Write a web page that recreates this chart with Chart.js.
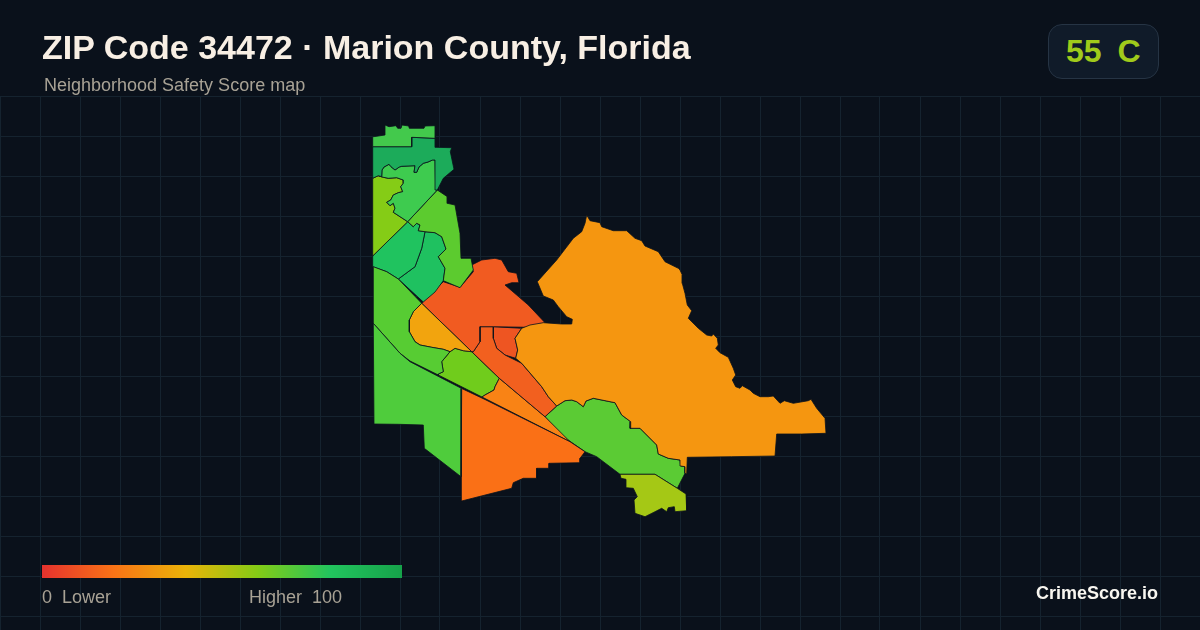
<!DOCTYPE html>
<html>
<head>
<meta charset="utf-8">
<title>ZIP Code 34472</title>
<script src="https://cdn.jsdelivr.net/npm/chart.js@4/dist/chart.umd.js"></script>
<style>
body { margin: 0; background: #0a111b; }
#wrap { position: relative; width: 1200px; height: 630px; overflow: hidden; font-family: "Liberation Sans", Arial, sans-serif; }
canvas { position: absolute; left: 0; top: 0; }
.t { position: absolute; white-space: pre; line-height: 1; }
#title { left: 42px; top: 30px; font-size: 34px; font-weight: bold; color: #f8efe4; }
#sub { left: 44px; top: 76px; font-size: 18px; color: #a8a295; }
#badge { position: absolute; left: 1048px; top: 24px; width: 109px; height: 53px; border: 1px solid #263444; border-radius: 14px; background: #101b29; }
#score { left: 1066px; top: 35px; font-size: 32px; font-weight: bold; color: #a0ca1b; word-spacing: -1px; }
#ramp { position: absolute; left: 42px; top: 565px; width: 360px; height: 13px;
  background: linear-gradient(90deg, #e5322e 0%, #f97316 20%, #eab308 40%, #84cc16 60%, #22c55e 80%, #16a34a 100%); }
#low { left: 42px; top: 588px; font-size: 18px; color: #a8a295; }
#high { left: 249px; top: 588px; font-size: 18px; color: #a8a295; }
#brand { left: 1036px; top: 584px; font-size: 18px; font-weight: bold; color: #f8f6f0; }
</style>
</head>
<body>
<div id="wrap">
  <canvas id="Chart" width="1200" height="630"></canvas>
  <div class="t" id="title">ZIP Code 34472 · Marion County, Florida</div>
  <div class="t" id="sub">Neighborhood Safety Score map</div>
  <div id="badge"></div>
  <div class="t" id="score">55  C</div>
  <div id="ramp"></div>
  <div class="t" id="low">0  Lower</div>
  <div class="t" id="high">Higher  100</div>
  <div class="t" id="brand">CrimeScore.io</div>
</div>
<script>
// map outlines, one list per neighborhood, in map units
const northStrip = [[372.7,136.7],[375,136.5],[385,135],[385,125],[389,126.7],[396,125.7],[397.7,128.3],[401,128.3],[402,125],[408.7,126],[409.3,128.3],[424,128.3],[425,126],[435.3,125.7],[435.3,138.3],[411.7,137.3],[411.7,146.7],[372.7,146.7]];
const northDark = [[372.7,146.7],[411.7,146.7],[411.7,137.3],[435.3,138.3],[435.3,147.3],[451.7,147.7],[450.3,151.7],[454,169.3],[443.3,178.3],[437.3,190],[435.7,190],[435,160],[432.5,160],[428,162],[423.3,163.3],[419,167],[416.7,172.3],[414,172.3],[415,165.7],[401.7,166.3],[399.3,167],[395,170],[391,166.7],[389,164.3],[384,167],[382,170],[381.7,176.7],[378.3,175.7],[372.7,178.3]];
const northInner = [[378.3,175.7],[381.7,176.7],[382,170],[384,167],[389,164.3],[391,166.7],[395,170],[399.3,167],[401.7,166.3],[415,165.7],[414,172.3],[416.7,172.3],[419,167],[423.3,163.3],[428,162],[432.5,160],[435,160],[435.7,190],[437.3,190],[407.7,221.7],[393.3,212.3],[395,208.3],[393.3,203.3],[390,205.7],[386.7,202.3],[390.7,200],[393.3,195],[398.3,192.7],[402.7,191.7],[400.7,186.7],[403.3,183.3],[403.3,180],[396.7,177.7],[388.3,178.3],[383.3,177.3]];
const westLime = [[372.7,178.3],[378.3,175.7],[383.3,177.3],[388.3,178.3],[396.7,177.7],[403.3,180],[403.3,183.3],[400.7,186.7],[402.7,191.7],[398.3,192.7],[393.3,195],[390.7,200],[386.7,202.3],[390,205.7],[393.3,203.3],[395,208.3],[393.3,212.3],[407.7,221.7],[372.7,256]];
const eastBand = [[437.3,190],[447.3,196.7],[447.3,203.3],[455,205],[460,233.3],[461,258.3],[471,258.3],[473.3,270],[460,287.7],[443.3,280.7],[445,268.3],[438.3,256.7],[446,249],[441.7,236.7],[435,232.7],[425,231.7],[418.3,230.7],[420,225],[416.7,223.3],[413.3,226.7],[407.7,221.7]];
const midWest = [[407.7,221.7],[413.3,226.7],[416.7,223.3],[420,225],[418.3,230.7],[425,231.7],[421.7,248.3],[415,266.7],[398.3,279],[386.7,271.7],[372.7,266.7],[372.7,256]];
const midEast = [[425,231.7],[435,232.7],[441.7,236.7],[446,249],[438.3,256.7],[445,268.3],[443.3,280.7],[435,292],[423.3,302],[398.3,279],[415,266.7],[421.7,248.3]];
const westBand = [[373.3,266.7],[386.7,271.7],[398.3,279],[421.7,303.3],[413.3,311.7],[409.3,320],[409.3,331.7],[415,341.7],[420,345],[431.7,347.3],[443.3,349.3],[450,351.7],[441.7,361.7],[443.3,371.7],[438.3,374],[438.3,375],[410,361],[400,353.3],[373.3,323.3]];
const southWest = [[373.3,323.3],[400,353.3],[410,361.7],[461.7,388.5],[461,476.7],[424.3,448.3],[423.3,425],[398.3,424.3],[374,424]];
const amberBend = [[421.7,303.3],[471.7,351.7],[463.3,350.7],[455,348.3],[450,351.7],[443.3,349.3],[431.7,347.3],[420,345],[415,341.7],[409.3,331.7],[409.3,320],[413.3,311.7]];
const redNorth = [[421.7,303.3],[443.3,281.7],[460,287.3],[473.3,271.7],[471.7,265],[481.7,260],[495,258.3],[501.7,260],[508.3,271.7],[516.7,273.3],[519,282.7],[511.7,282.7],[505,285],[516.7,295],[528.3,305],[545,322.7],[528.3,327.3],[493.3,326.7],[480,326.7],[480,341.7],[473.3,351.7],[471.7,351.7]];
const redStrip = [[480,326.7],[493.3,326.7],[493.3,338.3],[496.7,348.3],[505,355],[521.7,363.3],[531.7,375],[541.7,386.7],[548.3,396.7],[556.7,406],[545,416.7],[499.3,378.3],[471.7,351.7],[473.3,351.7],[480,341.7]];
const redPocket = [[493.3,326.7],[521.7,328.3],[515,338.3],[517.7,350],[515.7,358.3],[505,355],[496.7,348.3],[493.3,338.3]];
const limeMid = [[455,348.3],[463.3,350.7],[471.7,351.7],[499.3,378.3],[495,386.7],[494,390],[485,395],[482,397],[438.3,375],[438.3,374],[443.3,371.7],[441.7,361.7],[450,351.7]];
const orangeStrip = [[499.3,378.3],[545,416.7],[570,441.7],[482,397],[485,395],[494,390],[495,386.7]];
const bigTriangle = [[461.7,388.5],[485,399.5],[570,441.7],[585,451.7],[580,458.3],[580,462.7],[549,463.3],[549,468.3],[536.7,468.3],[536.7,478.3],[523.3,478.3],[513.3,482.7],[511.7,488.3],[461.7,501],[461,445]];
const bigEast = [[586.7,215],[590,220.7],[600,222.7],[601.7,226.7],[613.3,230.7],[626.7,230.7],[635,238.3],[641.7,240.7],[645,246],[658.3,251.7],[665,261.7],[678.3,268.3],[680,270],[682.3,275],[682.3,283.3],[685,293.3],[687.3,305],[691.7,310.7],[688.3,318.3],[698.3,328.3],[706.7,335],[711.7,336],[713.3,334],[717.3,338.3],[718.3,345],[715.7,348.3],[720,352.7],[728.3,357.3],[733.3,368.3],[735.7,375],[732.3,380],[735.7,386.7],[740,388.3],[742.3,385.7],[750,390],[753.3,393.3],[760,396.7],[768.3,396.7],[773.3,396],[780,403.3],[784.3,400.7],[793.3,403.3],[808.3,400.7],[811,399.3],[816.7,408.3],[825,418.3],[826,433.3],[801.7,434],[776.7,434],[775,456],[731.7,456.7],[687.3,457.3],[686.7,474],[685,473.3],[685,466.7],[680.7,466],[680,460],[668.3,458.3],[658.3,454],[656.7,445],[640,428.3],[630,428.3],[630.7,421.7],[621.7,415],[615,402.7],[593.3,398.3],[586,401],[583.3,406.7],[576.7,401.7],[571.7,400],[565,400.7],[556.7,406],[548.3,396.7],[541.7,386.7],[531.7,375],[521.7,363.3],[515.7,358.3],[517.7,350],[515,338.3],[521.7,328.3],[530,325],[543.3,322.7],[561.7,324],[571.7,324],[572.3,319.3],[566.7,316.7],[558.3,306.7],[553.3,300],[543.3,296],[537.3,281.7],[556.7,260],[573.3,238.3],[581.7,231.7],[585,223.3]];
const southGreen = [[545,416.7],[556.7,406],[565,400.7],[571.7,400],[576.7,401.7],[583.3,406.7],[586,401],[593.3,398.3],[615,402.7],[621.7,415],[630.7,421.7],[630,428.3],[640,428.3],[656.7,445],[658.3,454],[668.3,458.3],[680,460],[680.7,466],[685,466.7],[685,473.3],[677.3,488.3],[655,474.3],[620,474.3],[596.7,456.7],[585,451.7],[563.3,436.7]];
const southLime = [[620,474.3],[655,474.3],[677.3,488.3],[686,494],[686.7,510.7],[675,511.7],[674.3,506.7],[668.3,507.7],[666.7,511.7],[661.7,508.3],[655,511.7],[645,516.7],[635,513.3],[634,500],[637.3,496.7],[633.3,488.3],[626,487.7],[626,479.3],[621,478.3]];

const zones = [bigEast, southWest, westBand, northStrip, northDark, northInner, westLime, eastBand, midWest, midEast, amberBend, redNorth, redStrip, redPocket, bigTriangle, orangeStrip, limeMid, southLime, southGreen];
const zoneColors = ['#f59610', '#4fcc3c', '#57cc33', '#43c94c', '#1cab5a', '#3ecb4f', '#85cc16', '#5ccb2f', '#20c35f', '#1fc160', '#f2a40e', '#f15b21', '#f2601f', '#ee5522', '#fa7016', '#f98315', '#70cc1c', '#a5c815', '#5bcb34'];

const gridY = [96, 136, 176, 216, 256, 296, 336, 376, 416, 456, 496, 536, 576, 616];

let ctx = document.getElementById("Chart");
let config = {
	type: 'scatter',
	data: {
		datasets: zones.map((pts, i) => ({
			data: pts.concat([pts[0]]),
			showLine: true,
			fill: 'shape',
			backgroundColor: zoneColors[i],
			borderColor: '#0b131d',
			borderWidth: 0.8,
			pointRadius: 0,
			tension: 0,
		})),
	},
	options: {
		responsive: false,
		animation: false,
		layout: { padding: { top: 96 } },
		plugins: { legend: { display: false }, tooltip: { enabled: false } },
		scales: {
			x: {
				min: 0,
				max: 1200,
				ticks: { display: false, stepSize: 40 },
				grid: { color: '#15232f', drawTicks: false },
				border: { display: false },
			},
			y: {
				min: 96,
				max: 630,
				reverse: true,
				afterBuildTicks: (axis) => { axis.ticks = gridY.map(v => ({ value: v })); },
				ticks: { display: false },
				grid: { color: '#15232f', drawTicks: false },
				border: { display: false },
			},
		},
	},
};
let chart = new Chart(ctx, config);
</script>
</body>
</html>
